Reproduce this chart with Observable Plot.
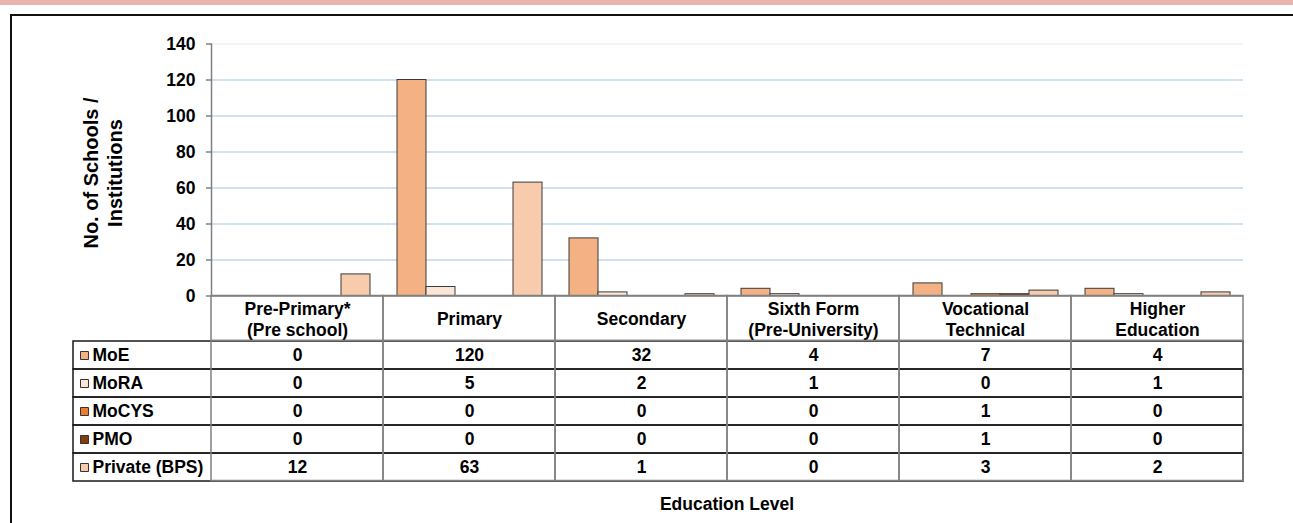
<!DOCTYPE html>
<html>
<head>
<meta charset="utf-8">
<script src="https://cdn.jsdelivr.net/npm/d3@7"></script>
<script src="https://cdn.jsdelivr.net/npm/@observablehq/plot@0.6"></script>
<style>
  html, body { margin: 0; padding: 0; background: #fff; }
  #wrap { position: relative; width: 1293px; height: 523px; overflow: hidden; font-family: "Liberation Sans", Arial, sans-serif; }
  #wrap > svg, #wrap > figure { position: absolute; left: 0; top: 0; margin: 0; }
  #band { position: absolute; left: 0; top: 0; width: 1293px; height: 5px; background: #e8b4b0; }
  #boxTop { position: absolute; left: 10px; top: 14px; width: 1283px; height: 0; border-top: 2px solid #111; }
  #boxLeft { position: absolute; left: 10px; top: 14px; width: 0; height: 509px; border-left: 2px solid #111; }
</style>
</head>
<body>
<div id="wrap">
  <div id="band"></div>
  <div id="boxTop"></div>
  <div id="boxLeft"></div>
</div>
<script>
// ---- data ----
const categories = ["Pre-Primary*\n(Pre school)", "Primary", "Secondary", "Sixth Form\n(Pre-University)", "Vocational\nTechnical", "Higher\nEducation"];
const series = ["MoE", "MoRA", "MoCYS", "PMO", "Private (BPS)"];
const moe     = [0, 120, 32, 4, 7, 4];
const mora    = [0, 5, 2, 1, 0, 1];
const mocys   = [0, 0, 0, 0, 1, 0];
const pmo     = [0, 0, 0, 0, 1, 0];
const privateBps = [12, 63, 1, 0, 3, 2];
const yTicks = [0, 20, 40, 60, 80, 100, 120, 140];
const gridTicks = [20, 40, 60, 80, 100, 120];
const topTick = [140];
const colors = ["#f4b183", "#fbe5d6", "#ed7d31", "#843c0c", "#f8cbad"];
const yTitle = "No. of Schools /\nInstitutions";
const xTitle = "Education Level";

const valuesBySeries = [moe, mora, mocys, pmo, privateBps];
const rows = series.flatMap((s, si) => categories.map((c, ci) => ({series: s, category: c, value: valuesBySeries[si][ci]})));

// ---- layout ----
const W = 1293, H = 523;
const plotLeft = 210, plotRight = 1243;
const plotTop = 43.5, baseY = 295.5, headerBottom = 340.5, tableBottom = 480.5, tableLeft = 73;
const FS = 17.5;
const font = {fontFamily: "'Liberation Sans', Arial, sans-serif", fontSize: FS + "px", fontWeight: "bold", color: "#000", background: "transparent", overflow: "visible"};
const colorScale = {domain: series, range: colors};

const wrap = document.getElementById("wrap");

// Chart (bars)
const chart = Plot.plot({
  width: W, height: H,
  marginLeft: plotLeft, marginRight: W - plotRight, marginTop: plotTop, marginBottom: H - baseY,
  style: font,
  fx: {domain: categories, paddingInner: 0, paddingOuter: 0, axis: null},
  x: {domain: series, paddingInner: 0, paddingOuter: 0.37, axis: null},
  y: {domain: [0, 140], axis: null},
  color: colorScale,
  marks: [
    Plot.gridY(gridTicks, {stroke: "#c3d7ec", strokeOpacity: 1, strokeWidth: 1.5}),
    Plot.gridY(topTick, {stroke: "#eef3f9", strokeOpacity: 1, strokeWidth: 1.5}),
    Plot.barY(rows.filter(d => d.value > 0), {fx: "category", x: "series", y: "value", fill: "series", stroke: "#3a3a3a", strokeWidth: 1}),
    Plot.ruleY([0], {stroke: "#7f7f7f", strokeWidth: 1.5}),
    Plot.axisY(yTicks, {tickSize: 5, tickPadding: 11, stroke: "#7f7f7f", strokeWidth: 1.5, fontSize: FS, fontWeight: "bold", label: null}),
    Plot.frame({anchor: "left", facetAnchor: "left", stroke: "#7f7f7f", strokeWidth: 1.5}),
    Plot.text([yTitle], {frameAnchor: "left", facetAnchor: "left", dx: -109, dy: 3, rotate: -90, textAnchor: "middle", lineAnchor: "middle", lineHeight: 1.17, fontSize: 20, fontWeight: "bold", text: d => d})
  ]
});
wrap.appendChild(chart);

// Table header row + x title
const header = Plot.plot({
  width: W, height: H,
  marginLeft: plotLeft, marginRight: W - plotRight, marginTop: baseY, marginBottom: H - headerBottom,
  style: font,
  x: {domain: categories, padding: 0, axis: null},
  marks: [
    Plot.cell(categories, {x: d => d, fill: "none", stroke: "#808080", strokeWidth: 1.5}),
    Plot.text(categories, {x: d => d, frameAnchor: "middle", lineHeight: 1.2, fontSize: FS, fontWeight: "bold", text: d => d}),
    Plot.text([xTitle], {frameAnchor: "bottom", lineAnchor: "middle", dy: 163.5, fontSize: FS, fontWeight: "bold", text: d => d})
  ]
});
wrap.appendChild(header);

// Table body
const table = Plot.plot({
  width: W, height: H,
  marginLeft: tableLeft, marginRight: W - plotRight, marginTop: headerBottom, marginBottom: H - tableBottom,
  style: font,
  x: {domain: categories, range: [plotLeft, plotRight], padding: 0, axis: null},
  y: {domain: series, padding: 0, axis: null},
  color: colorScale,
  marks: [
    Plot.cell(series, {y: d => d, fill: "none", stroke: "#1a1a1a", strokeWidth: 1.5}),
    Plot.cell(categories, {x: d => d, fill: "none", stroke: "#808080", strokeWidth: 1.5}),
    Plot.text(rows, {x: "category", y: "series", text: d => String(d.value), fontSize: FS, fontWeight: "bold"}),
    Plot.dot(series, {y: d => d, frameAnchor: "left", dx: 11, symbol: "square", r: 4.5, fill: d => d, stroke: "#333", strokeWidth: 1}),
    Plot.text(series, {y: d => d, frameAnchor: "left", dx: 19, textAnchor: "start", fontSize: FS, fontWeight: "bold", text: d => d})
  ]
});
wrap.appendChild(table);
</script>
</body>
</html>
